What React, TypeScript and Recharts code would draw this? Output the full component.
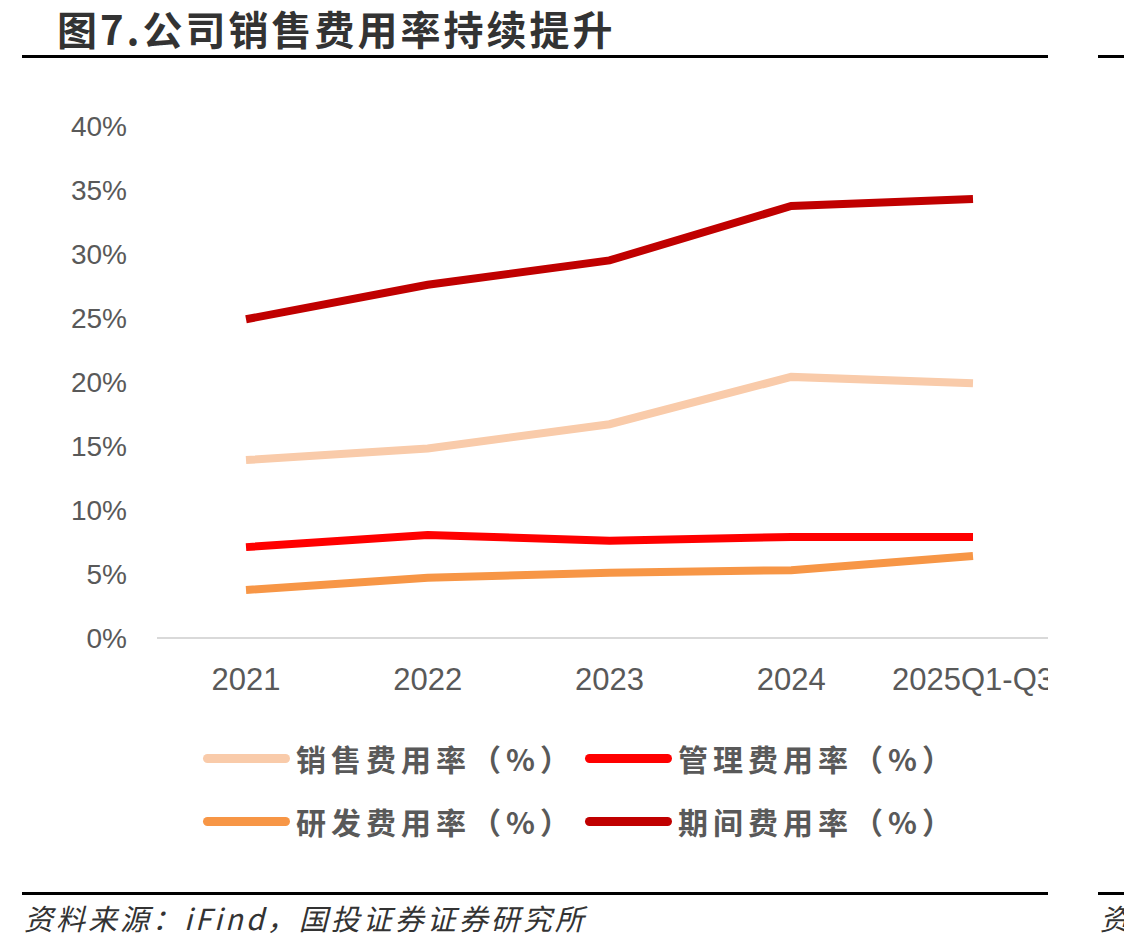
import { LineChart, Line, XAxis, YAxis, ReferenceLine } from 'recharts'

const years = ['2021', '2022', '2023', '2024', '2025Q1-Q3']
const salesRate = [13.9, 14.8, 16.7, 20.4, 19.9]
const adminRate = [7.1, 8.05, 7.6, 7.9, 7.9]
const rdRate = [3.75, 4.7, 5.1, 5.3, 6.4]
const periodRate = [24.9, 27.6, 29.5, 33.75, 34.3]
const yTicks = [0, 5, 10, 15, 20, 25, 30, 35, 40]

const series = [
  { key: 'sales', name: '销售费用率（%）', color: '#F9CBAA', values: salesRate },
  { key: 'admin', name: '管理费用率（%）', color: '#FF0000', values: adminRate },
  { key: 'rd', name: '研发费用率（%）', color: '#F79646', values: rdRate },
  { key: 'period', name: '期间费用率（%）', color: '#C00000', values: periodRate },
]

const data = years.map((year, i) => {
  const row: Record<string, string | number> = { year }
  series.forEach(s => { row[s.key] = s.values[i] })
  return row
})

const cjk = '"Noto Sans CJK SC", "Noto Sans", sans-serif'

const rule = (top: number, left: number, width: number) => (
  <div style={{ position: 'absolute', top, left, width, height: 3, background: '#000' }} />
)

export default function App() {
  return (
    <div style={{ position: 'absolute', left: 0, top: 0, width: 1124, height: 951, background: '#fff', overflow: 'hidden' }}>
      <div style={{
        position: 'absolute', left: 57, top: 4, fontFamily: cjk, fontWeight: 700,
        fontSize: 40, letterSpacing: 3, color: '#333', lineHeight: '48px', whiteSpace: 'nowrap',
      }}>
        图7.公司销售费用率持续提升
      </div>
      {rule(55, 22, 1026)}
      {rule(55, 1098, 26)}

      <div style={{ position: 'absolute', left: 0, top: 0 }}>
        <LineChart width={1048} height={720} data={data} margin={{ top: 126, right: 0, bottom: 32, left: 0 }}>
          <XAxis
            dataKey="year"
            height={50}
            padding={{ left: 89, right: 75 }}
            axisLine={false}
            tickLine={false}
            tickSize={0}
            tickMargin={30}
            tick={{ fill: '#595959', fontSize: 31, fontFamily: '"Liberation Sans", Arial, sans-serif' }}
          />
          <YAxis
            width={157}
            domain={[0, 40]}
            ticks={yTicks}
            interval={0}
            axisLine={false}
            tickLine={false}
            tickSize={0}
            tickMargin={30}
            tickFormatter={(v: number) => `${v}%`}
            tick={{ fill: '#595959', fontSize: 28, fontFamily: '"Liberation Sans", Arial, sans-serif' }}
          />
          <ReferenceLine y={0} stroke="#D9D9D9" strokeWidth={2} />
          {series.map(s => (
            <Line
              key={s.key}
              dataKey={s.key}
              name={s.name}
              stroke={s.color}
              strokeWidth={8}
              dot={false}
              activeDot={false}
              isAnimationActive={false}
            />
          ))}
        </LineChart>
      </div>

      {series.map((s, i) => {
        const col = i % 2
        const row = Math.floor(i / 2)
        return (
          <div key={s.key} style={{
            position: 'absolute', left: 203 + col * 382, top: 736 + row * 63,
            display: 'flex', alignItems: 'center', height: 44,
          }}>
            <div style={{ width: 87, height: 9, borderRadius: 5, background: s.color }} />
            <span style={{
              marginLeft: 6, fontFamily: cjk, fontSize: 30, letterSpacing: 5,
              color: '#595959', fontWeight: 600, whiteSpace: 'nowrap',
            }}>{s.name}</span>
          </div>
        )
      })}

      {rule(892, 22, 1026)}
      {rule(892, 1098, 26)}
      <div style={{
        position: 'absolute', left: 24, top: 898, fontFamily: cjk, fontStyle: 'italic',
        fontSize: 29, letterSpacing: 3, color: '#333', whiteSpace: 'nowrap', lineHeight: '38px',
      }}>
        资料来源：iFind，国投证券证券研究所
      </div>
      <div style={{
        position: 'absolute', left: 1100, top: 898, fontFamily: cjk, fontStyle: 'italic',
        fontSize: 29, color: '#333', whiteSpace: 'nowrap', lineHeight: '38px',
      }}>
        资
      </div>
    </div>
  )
}
